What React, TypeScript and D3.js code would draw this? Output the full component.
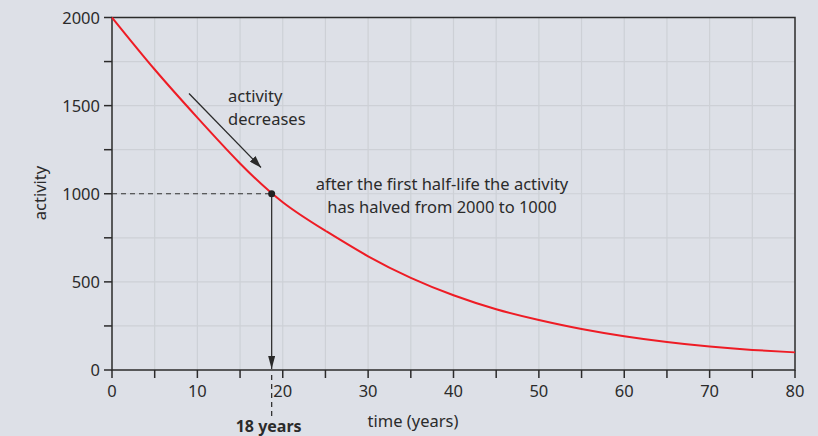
import React, { useEffect, useRef } from "react";
import * as d3 from "d3";

const years = [0, 5, 10, 15, 20, 25, 30, 35, 40, 45, 50, 55, 60, 65, 70, 75, 80];
const activity = [2000, 1705, 1432, 1172, 952, 790, 645, 523, 424, 345, 284, 233, 192, 159, 133, 114, 100];
const xTicks = [0, 10, 20, 30, 40, 50, 60, 70, 80];
const yTicks = [0, 500, 1000, 1500, 2000];
const halfLifeYears = 18.7;
const halfActivity = 1000;
const halfLifeLabel = "18 years";
const noteLines = ["after the first half-life the activity", "has halved from 2000 to 1000"];
const arrowLines = ["activity", "decreases"];

const W = 818;
const H = 436;
const FONT = "'Source Sans Pro', 'Noto Sans', 'Open Sans', sans-serif";

export default function App() {
  const ref = useRef<SVGSVGElement | null>(null);

  useEffect(() => {
    const svg = d3.select(ref.current);
    svg.selectAll("*").remove();

    const x = d3.scaleLinear().domain([0, 80]).range([112, 795]);
    const y = d3.scaleLinear().domain([0, 2000]).range([370, 17.5]);

    const defs = svg.append("defs");
    defs
      .append("marker")
      .attr("id", "ah")
      .attr("viewBox", "0 0 12 8")
      .attr("refX", 12)
      .attr("refY", 4)
      .attr("markerWidth", 12)
      .attr("markerHeight", 8)
      .attr("markerUnits", "userSpaceOnUse")
      .attr("orient", "auto")
      .append("path")
      .attr("d", "M0,0 L12,4 L0,8 Z")
      .attr("fill", "#2a2a2a");
    defs
      .append("marker")
      .attr("id", "ah2")
      .attr("viewBox", "0 0 13 7")
      .attr("refX", 13)
      .attr("refY", 3.5)
      .attr("markerWidth", 13)
      .attr("markerHeight", 7)
      .attr("markerUnits", "userSpaceOnUse")
      .attr("orient", "auto")
      .append("path")
      .attr("d", "M0,0 L13,3.5 L0,7 Z")
      .attr("fill", "#2a2a2a");

    svg.append("rect").attr("width", W).attr("height", H).attr("fill", "#dde0e7");

    const grid = svg.append("g").attr("stroke", "#cdd0d6").attr("stroke-width", 1.2);
    d3.range(5, 80, 5).forEach((t) => {
      grid.append("line").attr("x1", x(t)).attr("x2", x(t)).attr("y1", y(0)).attr("y2", y(2000));
    });
    d3.range(250, 2000, 250).forEach((v) => {
      grid.append("line").attr("x1", x(0)).attr("x2", x(80)).attr("y1", y(v)).attr("y2", y(v));
    });

    const axisColor = "#2b2b2b";
    svg
      .append("rect")
      .attr("x", x(0))
      .attr("y", y(2000))
      .attr("width", x(80) - x(0))
      .attr("height", y(0) - y(2000))
      .attr("fill", "none")
      .attr("stroke", axisColor)
      .attr("stroke-width", 1.5);

    const ticks = svg.append("g").attr("stroke", axisColor).attr("stroke-width", 1.5);
    d3.range(0, 85, 5).forEach((t) => {
      ticks.append("line").attr("x1", x(t)).attr("x2", x(t)).attr("y1", y(0)).attr("y2", y(0) + 8);
    });
    d3.range(0, 2250, 250).forEach((v) => {
      ticks.append("line").attr("x1", x(0) - 8).attr("x2", x(0)).attr("y1", y(v)).attr("y2", y(v));
    });

    const lab = svg
      .append("g")
      .attr("font-family", FONT)
      .attr("font-size", 16.5)
      .attr("fill", "#2b2b2b");
    xTicks.forEach((t) => {
      lab.append("text").attr("x", x(t)).attr("y", 397).attr("text-anchor", "middle").text(String(t));
    });
    yTicks.forEach((v) => {
      lab
        .append("text")
        .attr("x", 100)
        .attr("y", y(v) + 6)
        .attr("text-anchor", "end")
        .text(String(v));
    });
    lab.append("text").attr("x", 413).attr("y", 427).attr("text-anchor", "middle").text("time (years)");
    lab
      .append("text")
      .attr("transform", "translate(46,193) rotate(-90)")
      .attr("text-anchor", "middle")
      .text("activity");

    const line = d3
      .line<number>()
      .x((_, i) => x(years[i]))
      .y((d) => y(d))
      .curve(d3.curveNatural);
    svg
      .append("path")
      .attr("d", line(activity) as string)
      .attr("fill", "none")
      .attr("stroke", "#ee1c25")
      .attr("stroke-width", 2);

    svg
      .append("line")
      .attr("x1", x(0))
      .attr("x2", x(halfLifeYears))
      .attr("y1", y(halfActivity))
      .attr("y2", y(halfActivity))
      .attr("stroke", "#333")
      .attr("stroke-width", 1.2)
      .attr("stroke-dasharray", "5,4");
    svg
      .append("line")
      .attr("x1", x(halfLifeYears))
      .attr("x2", x(halfLifeYears))
      .attr("y1", y(halfActivity))
      .attr("y2", y(0) - 1)
      .attr("stroke", "#333")
      .attr("stroke-width", 1.3)
      .attr("marker-end", "url(#ah2)");
    svg
      .append("line")
      .attr("x1", x(halfLifeYears))
      .attr("x2", x(halfLifeYears))
      .attr("y1", y(0) + 5)
      .attr("y2", y(0) + 46)
      .attr("stroke", "#333")
      .attr("stroke-width", 1.3)
      .attr("stroke-dasharray", "5,4");
    svg
      .append("circle")
      .attr("cx", x(halfLifeYears))
      .attr("cy", y(halfActivity))
      .attr("r", 3.5)
      .attr("fill", "#222");

    svg
      .append("text")
      .attr("x", x(halfLifeYears) - 3)
      .attr("y", 431.5)
      .attr("text-anchor", "middle")
      .attr("font-family", FONT)
      .attr("font-size", 16)
      .attr("font-weight", "bold")
      .attr("fill", "#2b2b2b")
      .text(halfLifeLabel);

    svg
      .append("line")
      .attr("x1", 189)
      .attr("y1", 93.5)
      .attr("x2", 261)
      .attr("y2", 167.5)
      .attr("stroke", "#2a2a2a")
      .attr("stroke-width", 1.3)
      .attr("marker-end", "url(#ah)");

    const t1 = svg
      .append("g")
      .attr("font-family", FONT)
      .attr("font-size", 16.5)
      .attr("fill", "#2b2b2b");
    arrowLines.forEach((s, i) => {
      t1.append("text").attr("x", 228).attr("y", 101.5 + i * 23.5).text(s);
    });
    noteLines.forEach((s, i) => {
      t1.append("text")
        .attr("x", 442)
        .attr("y", 189.5 + i * 23.5)
        .attr("text-anchor", "middle")
        .text(s);
    });
  }, []);

  return (
    <svg
      ref={ref}
      width={W}
      height={H}
      style={{ position: "absolute", left: 0, top: 0, display: "block" }}
    />
  );
}
